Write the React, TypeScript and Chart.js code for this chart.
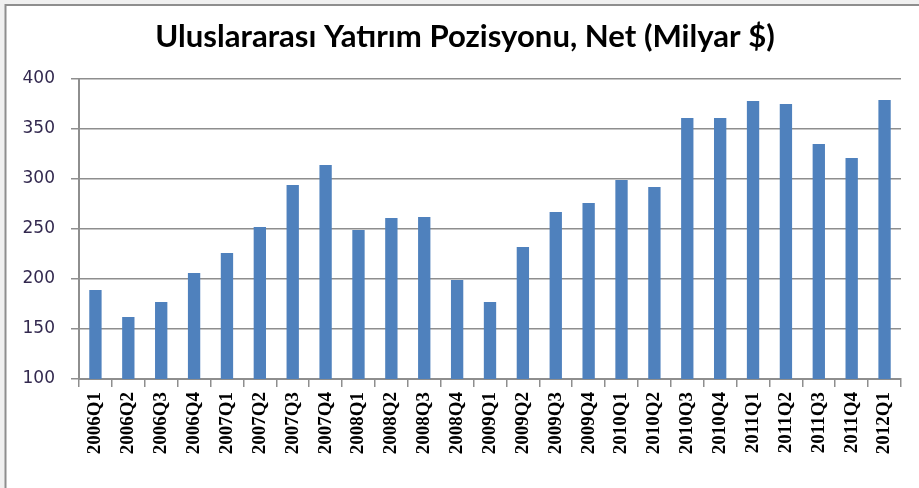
import React, { useEffect, useRef } from "react";
import { Chart, registerables } from "chart.js";

Chart.register(...registerables);

const TITLE = "Uluslararası Yatırım Pozisyonu, Net (Milyar $)";

const categories = [
  "2006Q1", "2006Q2", "2006Q3", "2006Q4",
  "2007Q1", "2007Q2", "2007Q3", "2007Q4",
  "2008Q1", "2008Q2", "2008Q3", "2008Q4",
  "2009Q1", "2009Q2", "2009Q3", "2009Q4",
  "2010Q1", "2010Q2", "2010Q3", "2010Q4",
  "2011Q1", "2011Q2", "2011Q3", "2011Q4",
  "2012Q1",
];

const netPosition = [
  189, 162, 177, 206,
  226, 252, 294, 314,
  249, 261, 262, 199,
  177, 232, 267, 276,
  299, 292, 361, 361,
  378, 375, 335, 321,
  379,
];

const yMin = 100;
const yMax = 400;
const yStep = 50;

const framePlugin = {
  id: "frameAndTitle",
  beforeDraw(chart: any) {
    const { ctx, width, height } = chart;
    ctx.save();
    ctx.fillStyle = "#f0f0f0";
    ctx.fillRect(0, 0, width, height);
    ctx.fillStyle = "#ffffff";
    ctx.fillRect(6, 6, width - 6, height - 6);
    ctx.strokeStyle = "#8e8e8e";
    ctx.lineWidth = 2;
    ctx.beginPath();
    ctx.moveTo(5.5, height);
    ctx.lineTo(5.5, 5);
    ctx.lineTo(width, 5);
    ctx.stroke();
    ctx.restore();
  },
  afterDraw(chart: any) {
    const { ctx } = chart;
    ctx.save();
    let size = 24;
    ctx.font = `bold ${size}px Lato, "Open Sans", sans-serif`;
    const w = ctx.measureText(TITLE).width;
    size = size * (620 / w);
    ctx.font = `bold ${size}px Lato, "Open Sans", sans-serif`;
    ctx.fillStyle = "#000000";
    ctx.textAlign = "center";
    ctx.textBaseline = "alphabetic";
    ctx.fillText(TITLE, 465, 47);
    ctx.restore();
  },
};

export default function App() {
  const ref = useRef<HTMLCanvasElement | null>(null);

  useEffect(() => {
    if (!ref.current) return;
    const chart = new Chart(ref.current, {
      type: "bar",
      data: {
        labels: categories,
        datasets: [
          {
            data: netPosition,
            backgroundColor: "#4f81bd",
            borderWidth: 0,
            barPercentage: 0.375,
            categoryPercentage: 1,
          },
        ],
      },
      options: {
        responsive: false,
        animation: false,
        devicePixelRatio: 1,
        layout: { padding: { top: 79, right: 18, bottom: 0, left: 0 } },
        plugins: {
          legend: { display: false },
          title: { display: false },
          tooltip: { enabled: false },
        },
        scales: {
          x: {
            afterFit(scale: any) {
              scale.height = 109;
            },
            grid: {
              offset: true,
              drawOnChartArea: false,
              drawTicks: true,
              tickLength: 8,
              color: "#8e8e8e",
              lineWidth: 1.5,
            },
            border: { display: true, color: "#8e8e8e", width: 2 },
            ticks: {
              minRotation: 90,
              maxRotation: 90,
              autoSkip: false,
              padding: 5,
              color: "#000000",
              font: { family: "'Liberation Serif', serif", size: 19, weight: "bold" },
            },
          },
          y: {
            min: yMin,
            max: yMax,
            afterFit(scale: any) {
              scale.width = 79;
            },
            grid: {
              color: "#8e8e8e",
              lineWidth: 1.5,
              tickLength: 8,
              drawTicks: true,
            },
            border: { display: true, color: "#8e8e8e", width: 2 },
            ticks: {
              stepSize: yStep,
              padding: 16,
              color: "#33294f",
              font: { family: "'DejaVu Sans', sans-serif", size: 17 },
            },
          },
        },
      },
      plugins: [framePlugin],
    });
    return () => chart.destroy();
  }, []);

  return (
    <div style={{ position: "absolute", left: 0, top: 0, width: 919, height: 488 }}>
      <canvas ref={ref} width={919} height={488} style={{ width: 919, height: 488, display: "block" }} />
    </div>
  );
}
